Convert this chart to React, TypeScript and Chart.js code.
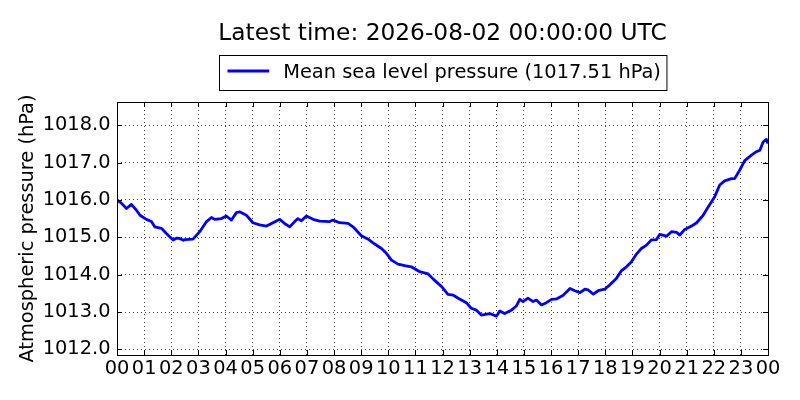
import { useEffect, useRef } from "react";
import { Chart, registerables } from "chart.js";

Chart.register(...registerables);

const titleText = "Latest time: 2026-08-02 00:00:00 UTC";
const seriesName = "Mean sea level pressure";
const yAxisLabel = "Atmospheric pressure (hPa)";

// hours since 00 UTC
const hours = [
  0.0, 0.15, 0.35, 0.53, 0.71, 0.85, 1.08, 1.27, 1.39, 1.64, 1.82, 2.07, 2.2,
  2.31, 2.45, 2.5, 2.8, 3.05, 3.3, 3.48, 3.6, 3.85, 4.03, 4.22, 4.4, 4.52,
  4.77, 5.01, 5.26, 5.51, 5.75, 6.0, 6.18, 6.37, 6.55, 6.67, 6.8, 6.98, 7.23,
  7.47, 7.84, 7.96, 8.21, 8.52, 8.7, 9.01, 9.26, 9.5, 9.75, 9.93, 10.12,
  10.36, 10.61, 10.85, 11.16, 11.47, 11.66, 11.97, 12.2, 12.4, 12.58, 12.88,
  13.06, 13.25, 13.43, 13.74, 13.99, 14.11, 14.29, 14.54, 14.72, 14.85, 14.97,
  15.15, 15.34, 15.46, 15.65, 15.83, 16.02, 16.2, 16.45, 16.7, 16.88, 17.07,
  17.25, 17.37, 17.56, 17.74, 17.98, 18.16, 18.41, 18.59, 18.78, 18.96, 19.15,
  19.33, 19.52, 19.7, 19.89, 20.01, 20.26, 20.44, 20.63, 20.75, 20.93, 21.18,
  21.37, 21.61, 21.8, 22.03, 22.22, 22.4, 22.65, 22.77, 22.96, 23.14, 23.39,
  23.57, 23.7, 23.82, 23.94, 24.0,
];

// hPa
const pressure = [
  1016.0, 1015.92, 1015.77, 1015.88, 1015.73, 1015.59, 1015.48, 1015.42,
  1015.28, 1015.24, 1015.1, 1014.93, 1014.98, 1014.97, 1014.92, 1014.94,
  1014.95, 1015.15, 1015.42, 1015.53, 1015.48, 1015.5, 1015.57, 1015.46,
  1015.66, 1015.68, 1015.59, 1015.39, 1015.33, 1015.3, 1015.39, 1015.48,
  1015.37, 1015.28, 1015.42, 1015.5, 1015.44, 1015.57, 1015.48, 1015.43,
  1015.42, 1015.46, 1015.39, 1015.37, 1015.28, 1015.04, 1014.95, 1014.82,
  1014.7, 1014.57, 1014.39, 1014.28, 1014.24, 1014.21, 1014.08, 1014.02,
  1013.88, 1013.68, 1013.47, 1013.45, 1013.37, 1013.25, 1013.1, 1013.05,
  1012.92, 1012.96, 1012.89, 1013.03, 1012.96, 1013.05, 1013.16, 1013.34,
  1013.28, 1013.37, 1013.28, 1013.32, 1013.19, 1013.25, 1013.34, 1013.35,
  1013.45, 1013.63, 1013.57, 1013.52, 1013.61, 1013.59, 1013.48, 1013.57,
  1013.61, 1013.72, 1013.9, 1014.1, 1014.21, 1014.34, 1014.55, 1014.7,
  1014.79, 1014.93, 1014.94, 1015.08, 1015.03, 1015.15, 1015.13, 1015.06,
  1015.21, 1015.3, 1015.39, 1015.59, 1015.82, 1016.08, 1016.4, 1016.51,
  1016.57, 1016.57, 1016.8, 1017.05, 1017.2, 1017.29, 1017.33, 1017.55,
  1017.62, 1017.51,
];

const xTicks = [
  0, 1, 2, 3, 4, 5, 6, 7, 8, 9, 10, 11, 12, 13, 14, 15, 16, 17, 18, 19, 20,
  21, 22, 23, 24,
];
const yTicks = [1012, 1013, 1014, 1015, 1016, 1017, 1018];

const FONT = "DejaVu Sans";
const BLUE = "#0000ff";

// matplotlib-like frame, inward ticks, centred title and boxed legend
const framePlugin = {
  id: "mplFrame",
  afterLayout(chart: any) {
    const t = chart.titleBlock;
    if (t) {
      t.left = chart.chartArea.left;
      t.right = chart.chartArea.right;
    }
  },
  afterDatasetsDraw(chart: any) {
    const { ctx, chartArea: a, scales } = chart;
    ctx.save();
    ctx.strokeStyle = "#000";
    ctx.lineWidth = 1;
    ctx.beginPath();
    for (const v of xTicks) {
      const px = Math.round(scales.x.getPixelForValue(v)) + 0.5;
      ctx.moveTo(px, a.bottom);
      ctx.lineTo(px, a.bottom - 5);
      ctx.moveTo(px, a.top);
      ctx.lineTo(px, a.top + 5);
    }
    for (const v of yTicks) {
      const py = Math.round(scales.y.getPixelForValue(v)) + 0.5;
      ctx.moveTo(a.left, py);
      ctx.lineTo(a.left + 5, py);
      ctx.moveTo(a.right, py);
      ctx.lineTo(a.right - 5, py);
    }
    ctx.stroke();
    ctx.strokeRect(a.left + 0.5, a.top + 0.5, a.width, a.height);
    ctx.restore();
  },
  afterDraw(chart: any) {
    const { ctx, chartArea: a } = chart;
    const label = `${seriesName} (${pressure[pressure.length - 1].toFixed(2)} hPa)`;
    ctx.save();
    ctx.font = `19.4px "${FONT}"`;
    const tw = ctx.measureText(label).width;
    const padL = 8;
    const lineLen = 41.7;
    const gap = 14;
    const padR = 6;
    const boxW = padL + lineLen + gap + tw + padR;
    const x0 = Math.round((a.left + a.right) / 2 - boxW / 2) + 0.5;
    const y0 = 55.5;
    ctx.fillStyle = "#fff";
    ctx.fillRect(x0, y0, boxW, 35);
    ctx.strokeStyle = "#000";
    ctx.lineWidth = 1;
    ctx.strokeRect(x0, y0, boxW, 35);
    ctx.strokeStyle = BLUE;
    ctx.lineWidth = 2.8;
    ctx.beginPath();
    ctx.moveTo(x0 + padL, 71);
    ctx.lineTo(x0 + padL + lineLen, 71);
    ctx.stroke();
    ctx.fillStyle = "#000";
    ctx.textBaseline = "alphabetic";
    ctx.fillText(label, x0 + padL + lineLen + gap, 78);
    ctx.restore();
  },
};

export default function App() {
  const canvasRef = useRef<HTMLCanvasElement | null>(null);

  useEffect(() => {
    document.body.style.margin = "0";
    if (!canvasRef.current) return;

    const gridOpts = { color: "rgba(0,0,0,0.75)", lineWidth: 1, drawTicks: false };
    const borderOpts = { display: false, dash: [1, 3] };

    const chart = new Chart(canvasRef.current, {
      type: "line",
      data: {
        datasets: [
          {
            label: seriesName,
            data: hours.map((h, i) => ({ x: h, y: pressure[i] })),
            borderColor: BLUE,
            backgroundColor: BLUE,
            borderWidth: 2.8,
            borderJoinStyle: "round",
            pointRadius: 0,
            tension: 0,
            fill: false,
          },
        ],
      },
      options: {
        animation: false,
        responsive: true,
        maintainAspectRatio: false,
        layout: { padding: { top: 0, left: 0, right: 32, bottom: 0 } },
        plugins: {
          legend: { display: false },
          tooltip: { enabled: false },
          title: {
            display: true,
            text: titleText,
            color: "#000",
            font: { family: FONT, size: 23.3, weight: "normal" },
            padding: { top: 20, bottom: 54.04 },
          },
        },
        scales: {
          x: {
            type: "linear",
            min: 0,
            max: 24,
            afterBuildTicks: (s: any) => {
              s.ticks = xTicks.map((v) => ({ value: v }));
            },
            afterFit: (s: any) => {
              s.height = 45;
            },
            ticks: {
              autoSkip: false,
              maxRotation: 0,
              padding: 2,
              color: "#000",
              font: { family: FONT, size: 19.4 },
              callback: (v: any) => String(Number(v) % 24).padStart(2, "0"),
            },
            grid: gridOpts,
            border: borderOpts,
          },
          y: {
            type: "linear",
            min: 1011.85,
            max: 1018.62,
            afterBuildTicks: (s: any) => {
              s.ticks = yTicks.map((v) => ({ value: v }));
            },
            afterFit: (s: any) => {
              s.width = 117;
            },
            ticks: {
              padding: 6.5,
              color: "#000",
              font: { family: FONT, size: 19.4 },
              callback: (v: any) => Number(v).toFixed(1),
            },
            title: {
              display: true,
              text: yAxisLabel,
              color: "#000",
              font: { family: FONT, size: 19.4 },
              padding: { top: 16.6, bottom: 0 },
            },
            grid: gridOpts,
            border: borderOpts,
          },
        },
      } as any,
      plugins: [framePlugin],
    });

    return () => chart.destroy();
  }, []);

  return (
    <div style={{ width: 800, height: 400, position: "relative" }}>
      <canvas ref={canvasRef} />
    </div>
  );
}
